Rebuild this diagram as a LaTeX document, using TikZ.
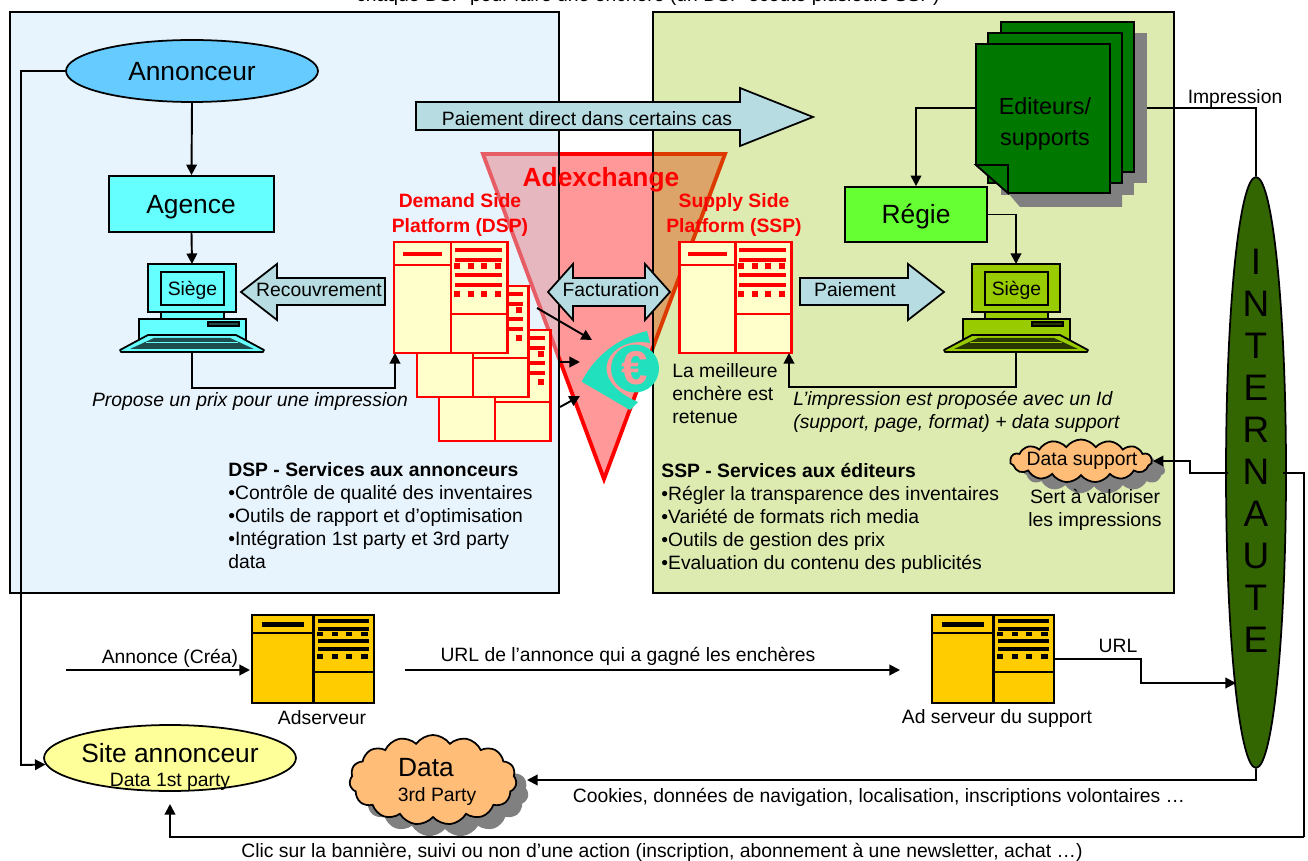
\documentclass[tikz,border=0pt]{standalone}
\usepackage{fontspec}
\setmainfont{Liberation Sans}
\usetikzlibrary{arrows.meta,shapes.geometric,shapes.symbols}
\definecolor{bleuPanneau}{RGB}{199,228,250}
\definecolor{vertPanneau}{RGB}{145,190,0}
\definecolor{bleuFleche}{RGB}{183,221,226}
\definecolor{vertEditeur}{RGB}{0,120,0}
\definecolor{turquoise}{RGB}{33,224,190}
\definecolor{bleuAnnonceur}{RGB}{102,204,255}
\definecolor{cyanAgence}{RGB}{102,255,255}
\definecolor{cyanSombre}{RGB}{30,75,75}
\definecolor{vertRegie}{RGB}{102,255,51}
\definecolor{vertSiege}{RGB}{153,204,0}
\definecolor{vertSombre}{RGB}{40,55,0}
\definecolor{jaunePage}{RGB}{255,255,204}
\definecolor{orangePage}{RGB}{255,204,0}
\definecolor{orangeNuage}{RGB}{255,189,120}
\definecolor{jauneSite}{RGB}{255,255,153}
\definecolor{vertInternaute}{RGB}{51,102,0}
\definecolor{roseEuro}{RGB}{255,153,153}
\tikzset{
  texte/.style={inner sep=0pt,font=\fontsize{11}{13.1}\selectfont},
  gros/.style={inner sep=0pt,font=\fontsize{15}{18}\selectfont},
  rouge/.style={inner sep=0pt,text=red,align=center,font=\fontsize{11}{13.8}\selectfont\bfseries},
  fleche/.style={-{Triangle[length=6pt,width=6pt]},line width=1.1pt},
  filet/.style={line width=1.1pt},
  large/.style={draw=black,line width=1pt,fill=bleuFleche,line join=miter},
  boite/.style={draw=black,line width=1pt,inner sep=0pt},
  nuage/.style={draw=black,line width=1pt,cloud,cloud puffs=15,cloud puff arc=110,cloud ignores aspect,inner sep=0pt},
  ombre/.style={nuage,draw=none,fill=black!50},
  page/.style={draw=black,line width=1pt,fill=vertEditeur},
  ombrepage/.style={fill=black!50}
}
\newcommand{\LargeurServeur}{1.7pt}
\newcommand{\Serveur}[7]{
\begin{scope}[shift={(#2,#3)},xscale=#4/113,yscale=#5/111]
\node[draw=#7,fill=#6,line width=\LargeurServeur,inner sep=0pt,outer sep=0pt,minimum width=#4*0.02cm,minimum height=#5*0.02cm,anchor=north west] (#1) at (0,0) {};
\draw[#7,line width=\LargeurServeur] (57,0) -- (57,111);
\draw[#7,line width=\LargeurServeur] (0,23) -- (57,23);
\draw[#7,line width=\LargeurServeur] (57,72) -- (113,72);
\draw[#7,line width=2.4pt] (9,12) -- (48,12);
\foreach \y in {8,18,33,43} \draw[#7,line width=2.2pt] (61,\y) -- (108,\y);
\foreach \x in {63,77,90,104} {
  \fill[#7] (\x-3,21) rectangle (\x+3,27);
  \fill[#7] (\x-3,49) rectangle (\x+3,55);
}
\end{scope}
}
\newcommand{\Siege}[4]{
\begin{scope}[shift={(#2,264)}]
\draw[line width=1pt,fill=#3] (-31,48) rectangle (32,55);
\draw[line width=1pt,fill=#3] (-53,55) rectangle (54,76);
\draw[line width=1pt,fill=#4] (16,58) rectangle (47,62);
\draw[line width=1pt,fill=#3,line join=round] (-44,71) -- (44,71) -- (72,86) -- (71,88) -- (-71,88) -- (-72,86) -- cycle;
\fill[#4] (-38,74) -- (38,74) -- (62,85) -- (-62,85) -- cycle;
\draw[#3,line width=0.5pt] (-46,78) -- (46,78);
\node[draw=black,line width=1pt,fill=#3,inner sep=0pt,outer sep=0pt,minimum width=1.76cm,minimum height=0.96cm,anchor=north] (#1) at (0,0) {};
\draw[line width=1pt] (-31,8) rectangle (32,41);
\node[texte] (#1 label) at (0.5,26) {Siège};
\coordinate (#1 bas) at (0,88);
\end{scope}
}
\begin{document}
\begin{tikzpicture}[x=0.02cm,y=-0.02cm]
\useasboundingbox (0,0) rectangle (1308,861);
\node[texte] (Titre) at (648,-3.5) {chaque DSP  pour faire une enchère (un DSP écoute plusieurs SSP)};
\draw[red,line width=2.2pt,fill=roseEuro] (483,154) -- (725,154) -- (604,479) -- cycle;
\draw[line width=1pt,draw=black,fill=bleuPanneau,fill opacity=0.41] (10,12) rectangle (559,593);
\draw[line width=1pt,draw=black,fill=vertPanneau,fill opacity=0.31] (653,12) rectangle (1174,593);
\node[inner sep=0pt,text=red,font=\fontsize{15}{18}\selectfont\bfseries] (Adexchange) at (601,180) {Adexchange};

\node[draw=black,line width=1pt,ellipse,fill=bleuAnnonceur,minimum width=5.04cm,minimum height=1.24cm,gros] (Annonceur) at (192,71) {};
\node[gros] (AnnonceurLabel) at (192,72) {Annonceur};
\node[boite,fill=cyanAgence,minimum width=3.3cm,minimum height=1.12cm] (Agence) at (191.5,204) {};
\node[gros] (AgenceLabel) at (191,207) {Agence};
\Siege{SiegeA}{192}{cyanAgence}{cyanSombre}

\fill[ombrepage] (1014,33) rectangle (1147,183);
\fill[ombrepage] (1001,44) rectangle (1134,195);
\fill[ombrepage] (1002,67) -- (1122,67) -- (1122,207) -- (1020,207) -- (1008,193) -- cycle;
\draw[page] (1001,22) rectangle (1134,172);
\draw[page] (988,33) rectangle (1122,183);
\draw[page] (976,44) -- (1110,44) -- (1110,193) -- (1008,193) -- (976,165) -- cycle;
\draw[page] (976,165) -- (1008,165) -- (1008,193) -- cycle;
\node[inner sep=0pt,align=center,font=\fontsize{13.3}{16}\selectfont] (Editeurs) at (1045,124) {Editeurs/\\[2pt]supports};
\coordinate (EditeursG) at (976,108);
\coordinate (EditeursD) at (1147,108);
\node[boite,fill=vertRegie,minimum width=2.84cm,minimum height=1.1cm] (Regie) at (916,214.5) {};
\node[gros] (RegieLabel) at (916,217) {Régie};
\Siege{SiegeB}{1016}{vertSiege}{vertSombre}

\renewcommand{\LargeurServeur}{1.7pt}
\Serveur{PageC}{439}{330}{111}{111}{jaunePage}{red}
\Serveur{PageB}{417}{286}{111}{111}{jaunePage}{red}
\Serveur{PageA}{394}{242}{113}{111}{jaunePage}{red}
\Serveur{SSP}{679}{242}{112}{111}{jaunePage}{red}
\renewcommand{\LargeurServeur}{1.2pt}
\Serveur{Adserveur}{252}{615}{122}{88}{orangePage}{black}
\Serveur{AdSupport}{932}{615}{122}{88}{orangePage}{black}

\node[rouge] (DSPtitre) at (460,215) {Demand Side\\Platform (DSP)};
\node[rouge] (SSPtitre) at (734,215) {Supply Side\\Platform (SSP)};

\draw[large] (416,102) -- (740,102) -- (740,88) -- (813,117) -- (740,146) -- (740,130) -- (416,130) -- cycle;
\node[texte] (PaiementDirect) at (587,119) {Paiement direct dans certains cas};
\draw[large] (385,278) -- (277,278) -- (277,264) -- (241,292) -- (277,320) -- (277,305) -- (385,305) -- cycle;
\node[texte] (Recouvrement) at (319,290) {Recouvrement};
\draw[large] (548,292) -- (573,264) -- (573,278) -- (645,278) -- (645,264) -- (670,292) -- (645,320) -- (645,306) -- (573,306) -- (573,320) -- cycle;
\node[texte] (Facturation) at (611,290) {Facturation};
\draw[large] (800,278) -- (908,278) -- (908,264) -- (944,292) -- (908,320) -- (908,305) -- (800,305) -- cycle;
\node[texte] (Paiement) at (855,290) {Paiement};

\fill[turquoise] (581.7,381.7) .. controls (595,355) and (620,337) .. (647,331) -- (650,343) .. controls (610,335) and (582,378) .. (638,402) -- (630,410) -- cycle;
\node[circle,fill=turquoise,minimum size=0.96cm,inner sep=0pt,text=roseEuro,font=\fontsize{27}{27}\selectfont\bfseries] (Euro) at (635,368.5) {€};

\node[ombre,minimum width=2.84cm,minimum height=0.95cm] (SupportOmbre) at (1094,470) {};
\node[nuage,fill=orangeNuage,minimum width=2.84cm,minimum height=0.86cm] (DataSupport) at (1081,461) {};
\node[texte] (DataSupportLabel) at (1082,461) {Data support};
\node[ombre,minimum width=3.34cm,minimum height=1.8cm] (DataOmbre) at (445,792) {};
\node[nuage,fill=orangeNuage,minimum width=3.34cm,minimum height=1.8cm] (Data) at (433,780) {};
\node[gros] (DataLabel) at (426,768) {Data};
\node[texte] (PartyLabel) at (437,796) {3rd Party};

\node[draw=black,line width=1pt,ellipse,fill=jauneSite,minimum width=5.04cm,minimum height=1.32cm,inner sep=0pt] (Site) at (170,758) {};
\node[gros] (SiteLabel) at (170,753) {Site annonceur};
\node[texte] (SiteData) at (170,781.5) {Data 1st party};
\node[draw=black,line width=1pt,ellipse,fill=vertInternaute,minimum width=1.2cm,minimum height=11.82cm,inner sep=0pt] (Internaute) at (1256,472.5) {};
\node[inner sep=0pt,align=center,font=\fontsize{21}{23.9}\selectfont] (InternauteLabel) at (1256,451) {I\\N\\T\\E\\R\\N\\A\\U\\T\\E};

\coordinate (Renvoi) at (21,765);
\coordinate (DSPentree) at (395,353);
\coordinate (SSPentree) at (789,353);
\coordinate (Bas) at (1304,837);
\coordinate (SiteEntree) at (170,804);
\coordinate (SupportCoude) at (1190,461);
\coordinate (InternauteG) at (1228,473);
\coordinate (InternauteD) at (1283,473);
\coordinate (InternauteU) at (1236,683);
\coordinate (SupportD) at (1054,659);
\coordinate (UrlCoude) at (1141,659);
\coordinate (DataEntree) at (527,780);
\coordinate (AnnonceDebut) at (66,670);
\coordinate (AnnonceFin) at (250,670);
\coordinate (UrlDebut) at (405,670);
\coordinate (UrlFin) at (900,670);
\coordinate (EncA) at (537,308);
\coordinate (EncB) at (592,340);
\coordinate (EncC) at (559,362);
\coordinate (EncD) at (580,362);
\coordinate (EncE) at (560,407);
\coordinate (EncF) at (580,396);

\draw[fleche] (Annonceur.south) -- (Agence.north);
\draw[fleche] (Agence.south) -- (SiegeA.north);
\draw[fleche] (Annonceur.west) -| (Renvoi) -- (Site.183);
\draw[fleche] (SiegeA bas) |- (192,388) -| (DSPentree);
\draw[fleche] (EditeursG) -| (Regie.north);
\draw[fleche] (Regie.east) -| (SiegeB.north);
\draw[fleche] (SiegeB bas) |- (1016,387) -| (SSPentree);
\draw[filet] (EditeursD) -| (Internaute.north);
\draw[fleche] (InternauteG) -| (SupportCoude) -- (DataSupport.east);
\draw[filet] (InternauteD) -| (Bas);
\draw[fleche] (Bas) -| (SiteEntree);
\draw[fleche] (AnnonceDebut) -- (AnnonceFin);
\draw[fleche] (UrlDebut) -- (UrlFin);
\draw[fleche] (SupportD) -- (UrlCoude) |- (InternauteU);
\draw[fleche] (Internaute.south) |- (DataEntree);
\draw[fleche] (EncA) -- (EncB);
\draw[fleche] (EncC) -- (EncD);
\draw[fleche] (EncE) -- (EncF);

\node[texte] (Impression) at (1235,98.5) {Impression};
\node[inner sep=0pt,font=\fontsize{11}{13}\selectfont\itshape] (Propose) at (250,402) {Propose un prix pour une impression};
\node[texte,align=left,anchor=west] (Meilleure) at (672,394) {La meilleure\\enchère est\\retenue};
\node[inner sep=0pt,align=left,anchor=west,font=\fontsize{11}{13.1}\selectfont\itshape] (Proposee) at (793,412) {L’impression est proposée avec un Id\\(support, page, format) + data support};
\node[texte,align=left,anchor=west] (ServicesDSP) at (228,516) {\textbf{DSP - Services aux annonceurs}\\•Contrôle de qualité des inventaires\\•Outils de rapport et d’optimisation\\•Intégration 1st party et 3rd party\\data};
\node[texte,align=left,anchor=west] (ServicesSSP) at (661,518) {\textbf{SSP - Services aux éditeurs}\\•Régler la transparence des inventaires\\•Variété de formats rich media\\•Outils de gestion des prix\\•Evaluation du contenu des publicités};
\node[texte,align=center] (Sert) at (1095,510) {Sert à valoriser\\les impressions};
\node[texte] (Annonce) at (170,658) {Annonce (Créa)};
\node[texte] (UrlAnnonce) at (628,656) {URL de l’annonce qui a gagné les enchères};
\node[texte] (Url) at (1118,646) {URL};
\node[texte] (AdserveurLabel) at (322,718) {Adserveur};
\node[texte] (SupportLabel) at (997,718) {Ad serveur du support};
\node[texte] (Cookies) at (879,797) {Cookies, données de navigation, localisation, inscriptions volontaires …};
\node[texte] (Clic) at (662,852.5) {Clic sur la bannière, suivi ou non d’une action (inscription, abonnement à une newsletter, achat …)};
\end{tikzpicture}
\end{document}
